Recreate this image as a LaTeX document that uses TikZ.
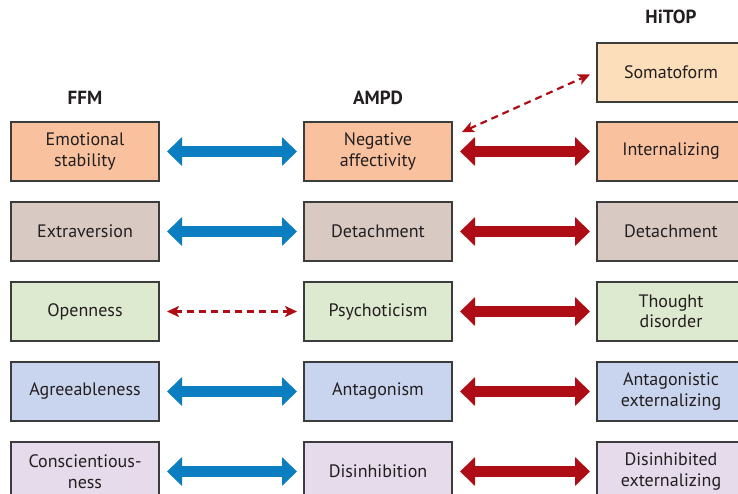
\documentclass[tikz,border=0pt]{standalone}
\usepackage{fontspec}
\setmainfont{PT Sans}
\usetikzlibrary{positioning,arrows.meta}

\definecolor{txt}{HTML}{231F20}
\definecolor{boxline}{HTML}{3C3C3C}
\definecolor{peach}{HTML}{F9C19E}
\definecolor{somato}{HTML}{FDDEBA}
\definecolor{taupe}{HTML}{D9C9C3}
\definecolor{sage}{HTML}{DDEACF}
\definecolor{periw}{HTML}{C9D5EE}
\definecolor{lilac}{HTML}{E5DBEB}
\definecolor{ffmblue}{HTML}{0B7DC1}
\definecolor{hitopred}{HTML}{AE0D16}

\begin{document}
\begin{tikzpicture}[x=1pt, y=-1pt, node distance=21pt and 145pt,
    box/.style={draw=boxline, line width=1.3pt, minimum width=148pt, minimum height=59pt,
        outer sep=0pt, align=center, text=txt, inner sep=2pt, font=\fontsize{18}{20.5}\selectfont},
    hdr/.style={text=txt, inner sep=0pt, font=\bfseries\fontsize{19}{22}\selectfont},
    bluearr/.style={draw=ffmblue, line width=11pt,
        {Triangle[length=15pt,width=28pt]}-{Triangle[length=15pt,width=28pt]}},
    redarr/.style={draw=hitopred, line width=11pt,
        {Triangle[length=15pt,width=28pt]}-{Triangle[length=15pt,width=28pt]}},
    weakarr/.style={draw=hitopred, line width=2.2pt, dash pattern=on 7pt off 5pt,
        {Stealth[length=12pt,width=11pt,inset=3pt]}-{Stealth[length=12pt,width=11pt,inset=3pt]}}]
    \useasboundingbox (0,0) rectangle (738,494);

    % FFM column
    \node[box, fill=peach] (emot) at (85,151.5) {Emotional\\stability};
    \node[box, fill=taupe, below=of emot] (extra) {Extraversion};
    \node[box, fill=sage, below=of extra] (open) {Openness};
    \node[box, fill=periw, below=of open] (agree) {Agreeableness};
    \node[box, fill=lilac, below=of agree] (consc) {Conscientious-\\ness};

    % AMPD column
    \node[box, fill=peach, right=of emot] (negaff) {Negative\\affectivity};
    \node[box, fill=taupe, right=of extra] (detach) {Detachment};
    \node[box, fill=sage, right=of open] (psycho) {Psychoticism};
    \node[box, fill=periw, right=of agree] (antag) {Antagonism};
    \node[box, fill=lilac, right=of consc] (disinh) {Disinhibition};

    % HiTOP column
    \node[box, fill=peach, right=of negaff] (intern) {Internalizing};
    \node[box, fill=somato, above=20pt of intern] (soma) {Somatoform};
    \node[box, fill=taupe, right=of detach] (hdetach) {Detachment};
    \node[box, fill=sage, right=of psycho] (thought) {Thought\\disorder};
    \node[box, fill=periw, right=of antag] (antext) {Antagonistic\\externalizing};
    \node[box, fill=lilac, right=of disinh] (disext) {Disinhibited\\externalizing};

    % headings
    \node[hdr, above=17pt of emot] (ffm) {FFM};
    \node[hdr, above=17pt of negaff] (ampd) {AMPD};
    \node[hdr, above=19pt of soma] (hitop) {HiTOP};

    % links
    \draw[bluearr, shorten <=8pt, shorten >=7pt] (emot) -- (negaff);
    \draw[bluearr, shorten <=8pt, shorten >=7pt] (extra) -- (detach);
    \draw[weakarr, shorten <=8pt, shorten >=7pt] (open) -- (psycho);
    \draw[bluearr, shorten <=8pt, shorten >=7pt] (agree) -- (antag);
    \draw[bluearr, shorten <=8pt, shorten >=7pt] (consc) -- (disinh);

    \draw[redarr, shorten <=8pt, shorten >=7pt] (negaff) -- (intern);
    \draw[redarr, shorten <=8pt, shorten >=7pt] (detach) -- (hdetach);
    \draw[redarr, shorten <=8pt, shorten >=7pt] (psycho) -- (thought);
    \draw[redarr, shorten <=8pt, shorten >=7pt] (antag) -- (antext);
    \draw[redarr, shorten <=8pt, shorten >=7pt] (disinh) -- (disext);
    \draw[weakarr] ([xshift=10pt,yshift=-10pt]negaff.north east) -- ([xshift=-7pt,yshift=-2pt]soma.west);
\end{tikzpicture}
\end{document}
